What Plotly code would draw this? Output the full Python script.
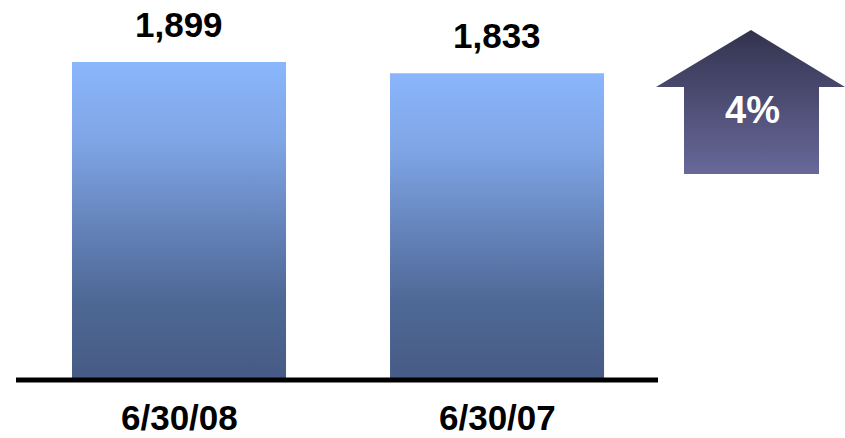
import plotly.graph_objects as go

categories = ["6/30/08", "6/30/07"]
values = [1899, 1833]
value_labels = ["1,899", "1,833"]
change_label = "4%"

FONT = "Liberation Sans, Arial, sans-serif"
bar_width = 0.673
bar_scale = [[0.0, "#465B85"], [0.25, "#4E6895"], [0.5, "#6685BD"],
             [0.75, "#7FA5E5"], [1.0, "#8AB6FC"]]

fig = go.Figure()

for i, (cat, v) in enumerate(zip(categories, values)):
    x0, x1 = i - bar_width / 2, i + bar_width / 2
    fig.add_trace(go.Scatter(
        x=[x0, x1, x1, x0, x0], y=[0, 0, v, v, 0],
        mode="lines", line=dict(width=0), fill="toself",
        fillgradient=dict(type="vertical", colorscale=bar_scale),
        hoverinfo="skip", showlegend=False, xaxis="x", yaxis="y"))
    fig.add_annotation(x=i, y=v, xref="x", yref="y", text=value_labels[i],
                       showarrow=False, yanchor="middle", yshift=38,
                       font=dict(family=FONT, size=35, color="black", weight="bold"))
    fig.add_annotation(x=i, y=0, xref="x", yref="y", text=cat,
                       showarrow=False, yanchor="middle", yshift=-37,
                       font=dict(family=FONT, size=35, color="black", weight="bold"))

# baseline
fig.add_shape(type="line", xref="paper", yref="paper",
              x0=16 / 845, x1=658 / 845, y0=58 / 438, y1=58 / 438,
              line=dict(color="black", width=5))

# up arrow (decoration, in overlay pixel-like axes)
ax = [751, 845, 819, 819, 684, 684, 656, 751]
ay = [408, 351, 351, 264, 264, 351, 351, 408]
fig.add_trace(go.Scatter(
    x=ax, y=ay, mode="lines", line=dict(width=0), fill="toself",
    fillgradient=dict(type="vertical", colorscale=[[0, "#68689A"], [1, "#33334F"]]),
    hoverinfo="skip", showlegend=False, xaxis="x2", yaxis="y2"))
fig.add_annotation(x=752, y=328, xref="x2", yref="y2", text=change_label,
                   showarrow=False, yanchor="middle",
                   font=dict(family=FONT, size=38, color="white", weight="bold"))

fig.update_layout(
    width=845, height=438,
    margin=dict(l=0, r=0, t=0, b=0),
    paper_bgcolor="white", plot_bgcolor="rgba(0,0,0,0)",
    xaxis=dict(domain=[18 / 845, 657 / 845], range=[-0.5063, 1.503],
               visible=False, fixedrange=True, anchor="y"),
    yaxis=dict(domain=[58 / 438, 1], range=[0, 2270], visible=False,
               fixedrange=True, anchor="x"),
    xaxis2=dict(domain=[0, 1], range=[0, 845], visible=False, anchor="y2",
                fixedrange=True),
    yaxis2=dict(domain=[0, 1], range=[0, 438], visible=False, anchor="x2",
                fixedrange=True),
    showlegend=False,
)

fig.write_html("out.html")
